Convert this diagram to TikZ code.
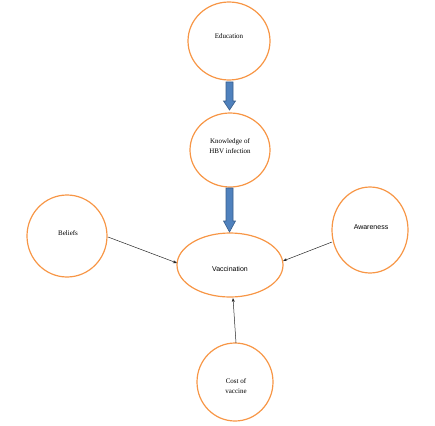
\documentclass[tikz,border=0pt]{standalone}
\usepackage{fontspec}
\setmainfont{Liberation Serif}
\newfontfamily\arialf{Liberation Sans}
\usetikzlibrary{arrows.meta}
\definecolor{circorange}{HTML}{F79646}
\definecolor{arrblue}{HTML}{4F81BD}
\definecolor{arrblueedge}{HTML}{385D8A}
\begin{document}
\begin{tikzpicture}[x=1pt,y=-1pt,
  ring/.style={draw=circorange,line width=1.2pt},
  lbl/.style={font=\fontsize{7}{10.5}\selectfont,align=center,text=black},
  sanslbl/.style={lbl,font=\arialf\fontsize{7}{10}\selectfont},
  thin arrow/.style={draw=black!85,line width=0.5pt,-{Stealth[length=4pt,width=3pt]}},
  blockarrow/.style={fill=arrblue,draw=arrblueedge,line width=0.6pt}]
\useasboundingbox (0,0) rectangle (435,425);
% circles
\draw[ring] (229,41) ellipse [x radius=41, y radius=39];
\node[lbl] (edu) at (229,36) {Education};
\draw[ring] (230,150) ellipse [x radius=40, y radius=37];
\node[lbl] (know) at (230,146) {Knowledge of\\HBV infection};
\draw[ring] (230,265) ellipse [x radius=53, y radius=32];
\node[sanslbl] (vac) at (230,269) {Vaccination};
\draw[ring] (67,236) ellipse [x radius=40, y radius=41];
\node[lbl] (bel) at (68,233) {Beliefs};
\draw[ring] (370,230) ellipse [x radius=38, y radius=43];
\node[sanslbl] (awa) at (371,227) {Awareness};
\draw[ring] (235,382) ellipse [x radius=38, y radius=39];
\node[lbl] (cost) at (236,386) {Cost of\\vaccine};
% anchor coordinates on boundaries
\coordinate (belE) at (108,237);
\coordinate (vacW) at (177,263);
\coordinate (awaW) at (332,242);
\coordinate (vacE) at (283,261);
\coordinate (costN) at (236,343);
\coordinate (vacS) at (233,298);
% thin arrows
\draw[thin arrow] (belE) -- (vacW);
\draw[thin arrow] (awaW) -- (vacE);
\draw[thin arrow] (costN) -- (vacS);
% block arrows
\draw[blockarrow] (226,82) -- (233,82) -- (233,101) -- (235.5,101) -- (229.5,110) -- (223.5,101) -- (226,101) -- cycle;
\draw[blockarrow] (226,188) -- (233,188) -- (233,221) -- (235.5,221) -- (229.5,232) -- (223.5,221) -- (226,221) -- cycle;
\end{tikzpicture}
\end{document}
